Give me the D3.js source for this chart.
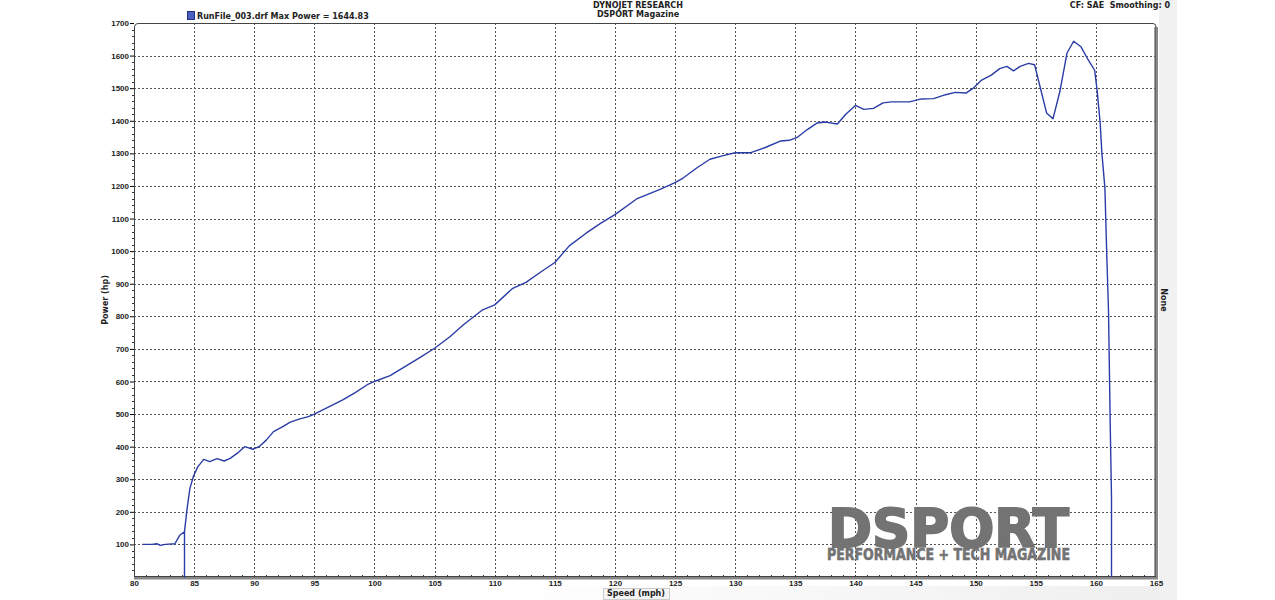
<!DOCTYPE html>
<html><head><meta charset="utf-8">
<script src="https://cdn.jsdelivr.net/npm/d3@7"></script>
<style>body{margin:0;background:#fff;}svg{display:block;font-family:Verdana,"DejaVu Sans",sans-serif;}</style>
</head><body><svg id="c" width="1275" height="600"></svg>
<script>
const speed = [80.7,81.5,81.9,82.2,82.6,83.4,83.8,84.2,84.2,84.2,84.4,84.65,84.95,85.3,85.8,86.3,86.9,87.5,88.0,88.6,89.2,89.9,90.4,91.0,91.6,92.3,93.0,93.8,94.5,
  95.0,96.2,97.4,98.4,99.4,100.0,101.3,102.5,103.8,105.0,106.3,107.4,108.2,109.0,110.0,111.5,112.6,113.8,115.0,116.2,117.6,118.8,120.0,121.8,123.7,125.0,125.7,126.8,127.9,129.0,130.0,131.3,132.5,133.8,
  134.5,135.2,136.0,136.8,137.5,138.5,139.2,140.0,140.7,141.5,142.3,143.0,144.5,145.5,146.5,147.5,148.3,149.2,149.8,150.5,151.3,152.0,152.6,153.15,153.7,154.4,154.9,155.9,156.43,157.0,157.6,158.15,158.76,159.3,159.9,160.1,160.36,160.5,160.75,160.9,161.05,161.2,161.3,161.3];
const power = [100,100,102,97,100,102,128,139,0,139,205,272,310,338,361,354,363,356,364,380,400,392,400,420,446,460,475,485,492,
  500,522,544,566,590,600,618,645,674,702,738,774,797,820,835,886,904,935,965,1016,1055,1085,1112,1160,1189,1210,1225,1255,1282,1293,1302,1302,1318,1338,
  1340,1350,1373,1393,1396,1390,1420,1447,1435,1438,1455,1458,1458,1467,1468,1480,1487,1485,1500,1525,1540,1560,1567,1553,1567,1576,1572,1424,1406,1489,1608,1644,1627,1591,1555,1494,1392,1300,1194,995,817,451,242,0];
const xTicks = [80,85,90,95,100,105,110,115,120,125,130,135,140,145,150,155,160,165];
const yTicks = [100,200,300,400,500,600,700,800,900,1000,1100,1200,1300,1400,1500,1600,1700];
const titleLines = ["DYNOJET RESEARCH","DSPORT Magazine"];
const legendText = "RunFile_003.drf Max Power = 1644.83";
const cornerText = "CF: SAE  Smoothing: 0";

const svg = d3.select("#c");
const L=134, R=1156, T=23, B=577;
const x = d3.scaleLinear().domain([80,165]).range([L,R]);
const y = d3.scaleLinear().domain([0,1700]).range([B,T]);

// background panels
const grad = svg.append("defs").append("linearGradient").attr("id","g").attr("x1","0").attr("x2","1");
grad.append("stop").attr("offset","0").attr("stop-color","#ffffff");
grad.append("stop").attr("offset","1").attr("stop-color","#efefef");
svg.append("rect").attr("x",0).attr("y",0).attr("width",1275).attr("height",600).attr("fill","#fff");
svg.append("rect").attr("x",1159).attr("y",0).attr("width",18).attr("height",600).attr("fill","#f1f1f1");
svg.append("rect").attr("x",500).attr("y",586).attr("width",659).attr("height",14).attr("fill","url(#g)");

// grid
const grid = svg.append("g").attr("stroke","#555").attr("stroke-width",1).attr("stroke-dasharray","2,2");
grid.selectAll("line.v").data(xTicks.filter(d=>d>80&&d<165)).join("line")
  .attr("x1",d=>Math.round(x(d))+0.5).attr("x2",d=>Math.round(x(d))+0.5).attr("y1",T).attr("y2",B);
grid.selectAll("line.h").data(yTicks.filter(d=>d<1700)).join("line")
  .attr("y1",d=>Math.round(y(d))+0.5).attr("y2",d=>Math.round(y(d))+0.5).attr("x1",L).attr("x2",R);

// logo (one text element, two lines)
const logo = svg.append("text").attr("fill","#737373").attr("stroke","#737373").attr("font-family","'DejaVu Sans',sans-serif").attr("font-weight","bold");
logo.append("tspan").attr("x",828).attr("y",547).attr("font-size",54).attr("stroke-width",2)
  .attr("textLength",241).attr("lengthAdjust","spacingAndGlyphs").text("DSPORT");
logo.append("tspan").attr("x",827).attr("y",560).attr("font-size",15).attr("stroke-width",0.6)
  .attr("textLength",243).attr("lengthAdjust","spacingAndGlyphs").text("PERFORMANCE + TECH MAGAZINE");

// frame
svg.append("path").attr("fill","none").attr("stroke","#444").attr("stroke-width",1)
  .attr("d",`M${L+0.5},${B} L${L+0.5},${T+4} Q${L+0.5},${T+0.5} ${L+4},${T+0.5} L${R-3},${T+0.5} Q${R},${T+0.5} ${R},${T+4}`);
svg.append("line").attr("x1",R+0.5).attr("x2",R+0.5).attr("y1",T+4).attr("y2",B).attr("stroke","#888").attr("stroke-width",3);
svg.append("line").attr("x1",R-1).attr("x2",R-1).attr("y1",T+4).attr("y2",B).attr("stroke","#444").attr("stroke-width",1);
svg.append("line").attr("x1",L).attr("x2",R+2).attr("y1",B+1).attr("y2",B+1).attr("stroke","#888").attr("stroke-width",3);
svg.append("line").attr("x1",L).attr("x2",R).attr("y1",B-0.5).attr("y2",B-0.5).attr("stroke","#444").attr("stroke-width",1);

// axes
const yAxis = d3.axisLeft(y).tickValues(yTicks).tickSize(4).tickFormat(d3.format("d"));
const ya = svg.append("g").attr("transform",`translate(${L},0)`).call(yAxis);
ya.select(".domain").remove();
ya.selectAll("text").attr("font-size",8).attr("font-weight","bold").attr("fill","#222").attr("x",-5);
const yMinor = d3.range(20,1700,20).filter(d=>d%100!==0);
svg.append("g").attr("stroke","#333").selectAll("line").data(yMinor).join("line")
  .attr("x1",L-2).attr("x2",L).attr("y1",d=>Math.round(y(d))+0.5).attr("y2",d=>Math.round(y(d))+0.5);

const xAxis = d3.axisBottom(x).tickValues(xTicks).tickSize(0).tickFormat(d3.format("d"));
const xa = svg.append("g").attr("transform",`translate(0,${B})`).call(xAxis);
xa.select(".domain").remove();
xa.selectAll("text").attr("font-size",8).attr("font-weight","bold").attr("fill","#222").attr("y",3).attr("dy","0.71em");
svg.append("g").attr("stroke","#333").selectAll("line").data(d3.range(81,165,1)).join("line")
  .attr("x1",d=>Math.round(x(d))+0.5).attr("x2",d=>Math.round(x(d))+0.5).attr("y1",B-2).attr("y2",B);

// data line
const pts = speed.map((s,i)=>[s,power[i]]);
svg.append("path").datum(pts).attr("fill","none").attr("stroke","#2a3da6").attr("stroke-width",1.4)
  .attr("stroke-linejoin","round")
  .attr("d",d3.line().x(d=>x(d[0])).y(d=>y(d[1])));

// texts
svg.selectAll("text.title").data(titleLines).join("text").attr("class","title")
  .attr("x",638).attr("y",(d,i)=>8+i*9).attr("text-anchor","middle").attr("font-size",8).attr("font-weight","bold").attr("fill","#222").text(d=>d);
svg.append("text").attr("x",1170).attr("y",8).attr("text-anchor","end").attr("font-size",8).attr("font-weight","bold").attr("fill","#222").attr("xml:space","preserve").text(cornerText);
svg.append("rect").attr("x",187.5).attr("y",11.5).attr("width",7).attr("height",8).attr("fill","#4c5fc0").attr("stroke","#223080");
svg.append("text").attr("x",197).attr("y",19).attr("font-size",8).attr("font-weight","bold").attr("fill","#222").text(legendText);
svg.append("text").attr("transform","translate(108,300) rotate(-90)").attr("text-anchor","middle").attr("font-size",8).attr("font-weight","bold").attr("fill","#222").text("Power (hp)");
svg.append("text").attr("transform","translate(1161,300) rotate(90)").attr("text-anchor","middle").attr("font-size",8).attr("font-weight","bold").attr("fill","#222").text("None");
// x label button
svg.append("rect").attr("x",603.5).attr("y",588.5).attr("width",66).attr("height",11).attr("fill","#f4f4f4").attr("stroke","#ccc");
svg.append("text").attr("x",636).attr("y",596).attr("text-anchor","middle").attr("font-size",8).attr("font-weight","bold").attr("fill","#222").text("Speed (mph)");
</script></body></html>
